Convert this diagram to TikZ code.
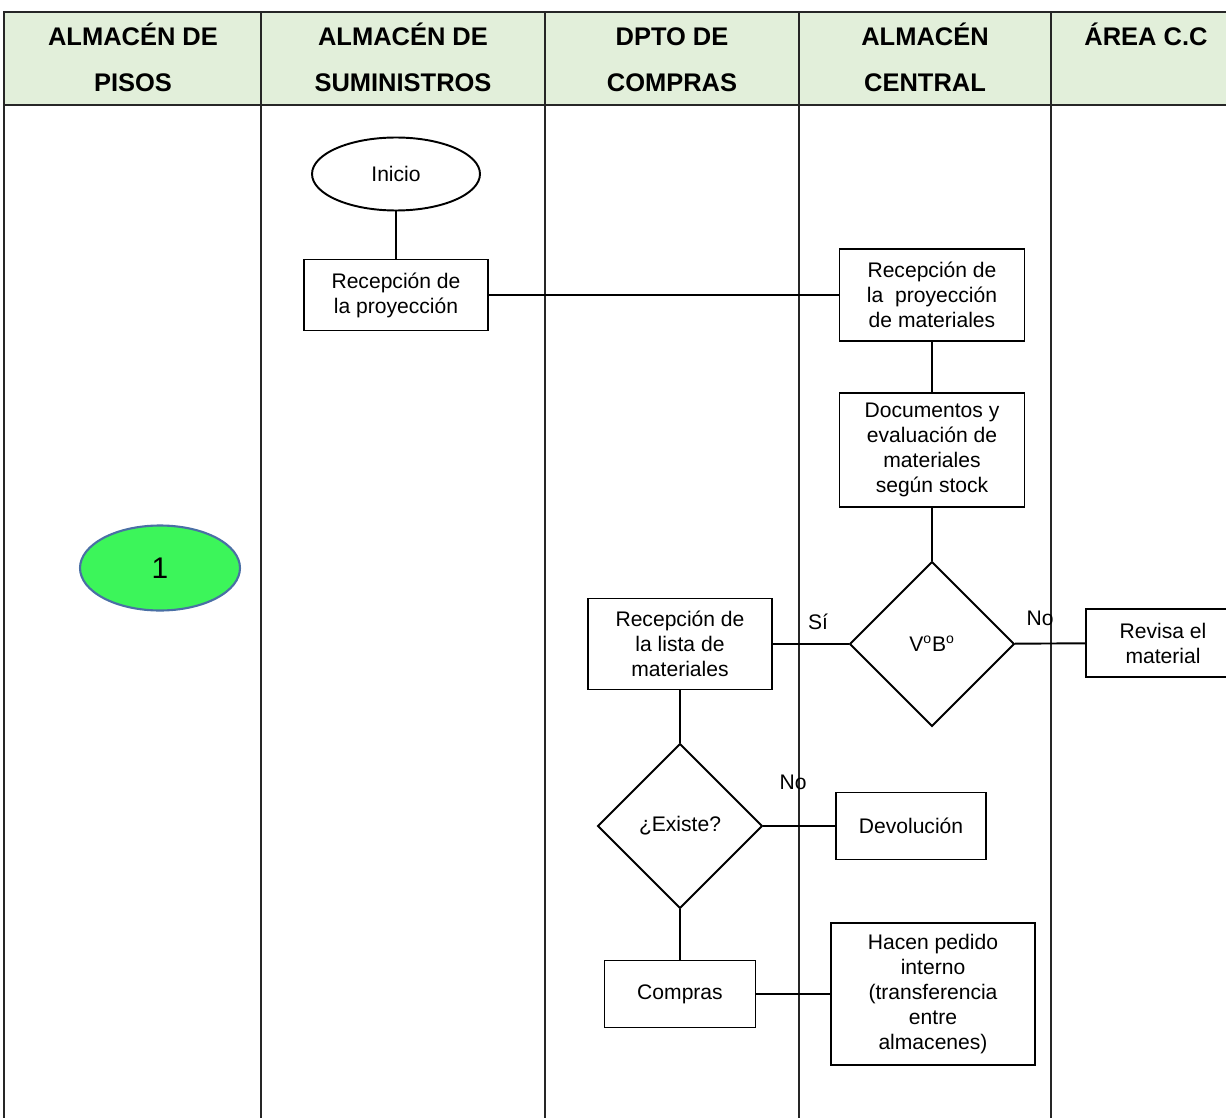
\documentclass[tikz,border=0pt]{standalone}
\usepackage{fontspec}
\setmainfont{Liberation Sans}
\usetikzlibrary{shapes.geometric}
\definecolor{headgreen}{HTML}{E2EFDA}
\definecolor{okgreen}{HTML}{3CF55A}
\definecolor{edgeblue}{HTML}{4A6FA5}

\begin{document}
\begin{tikzpicture}[x=0.02cm, y=-0.02cm,
	lane/.style={draw=black!85, line width=0.8pt},
	titulo/.style={anchor=north, align=center, inner sep=0pt, font=\bfseries\fontsize{14.5}{26}\selectfont},
	paso/.style={draw, line width=1.1pt, align=center, inner sep=0pt, font=\fontsize{12}{14.2}\selectfont},
	decision/.style={diamond, draw, line width=1.1pt, inner sep=0pt, minimum width=3.3cm, minimum height=3.3cm, font=\fontsize{12}{14.2}\selectfont},
	etiqueta/.style={inner sep=0pt, font=\fontsize{12}{14.2}\selectfont},
	enlace/.style={line width=1.1pt}]
	\useasboundingbox (0,0) rectangle (1226,1118);

	\fill[headgreen] (4,12) rectangle (1226,105);
	\draw[lane] (1226,12) -- (4,12) -- (4,1118);
	\draw[lane] (4,105) -- (1226,105);
	\foreach \x in {261,545,799,1051}
		\draw[lane] (\x,12) -- (\x,1118);

	\node[titulo] (pisos) at (133,20.4) {\rule{0pt}{14pt}ALMACÉN DE\\PISOS};
	\node[titulo] (suministros) at (403,20.4) {\rule{0pt}{14pt}ALMACÉN DE\\SUMINISTROS};
	\node[titulo] (compras) at (672,20.4) {\rule{0pt}{14pt}DPTO DE\\COMPRAS};
	\node[titulo] (central) at (925,20.4) {\rule{0pt}{14pt}ALMACÉN\\CENTRAL};
	\node[titulo] (areacc) at (1146,20.4) {\rule{0pt}{14pt}ÁREA C.C};

	\node[ellipse, draw, line width=1.1pt, minimum width=3.36cm, minimum height=1.46cm, inner sep=0pt, font=\fontsize{12}{14.2}\selectfont] (inicio) at (396,174) {Inicio};
	\node[paso, minimum width=3.68cm, minimum height=1.42cm] (rproy) at (396,295) {Recepción de\\la proyección};
	\node[paso, minimum width=3.7cm, minimum height=1.84cm] (rmat) at (932,295) {Recepción de\\la\ \ proyección\\de materiales};
	\node[paso, minimum width=3.7cm, minimum height=2.28cm] (docs) at (932,450) {Documentos y\\evaluación de\\materiales\\según stock};
	\node[decision] (vobo) at (932,644) {V\textsuperscript{o}B\textsuperscript{o}};
	\node[paso, minimum width=3.08cm, minimum height=1.36cm] (revisa) at (1163,643) {Revisa el\\material};
	\node[paso, minimum width=3.68cm, minimum height=1.82cm] (lista) at (680,644) {Recepción de\\la lista de\\materiales};
	\node[decision] (existe) at (680,826) {¿Existe?};
	\node[paso, minimum width=3cm, minimum height=1.34cm] (devol) at (911,826) {Devolución};
	\node[paso, minimum width=3.02cm, minimum height=1.34cm] (pedido) at (680,994) {Compras};
	\node[paso, minimum width=4.08cm, minimum height=2.84cm] (interno) at (933,994) {Hacen pedido\\interno\\(transferencia\\entre\\almacenes)};

	\node[ellipse, draw=edgeblue, fill=okgreen, line width=1.2pt, minimum width=3.2cm, minimum height=1.7cm, inner sep=0pt, font=\fontsize{17}{20}\selectfont] (uno) at (160,568) {1};

	\node[etiqueta] (si) at (818,622) {Sí};
	\node[etiqueta] (no1) at (1040,618) {No};
	\node[etiqueta] (no2) at (793,782) {No};

	\draw[enlace] (inicio) -- (rproy);
	\draw[enlace] (rproy) -- (rmat);
	\draw[enlace] (rmat) -- (docs);
	\draw[enlace] (docs) -- (vobo);
	\draw[enlace] (vobo) -- (revisa);
	\draw[enlace] (vobo) -- (lista);
	\draw[enlace] (lista) -- (existe);
	\draw[enlace] (existe) -- (devol);
	\draw[enlace] (existe) -- (pedido);
	\draw[enlace] (pedido) -- (interno);
\end{tikzpicture}
\end{document}
